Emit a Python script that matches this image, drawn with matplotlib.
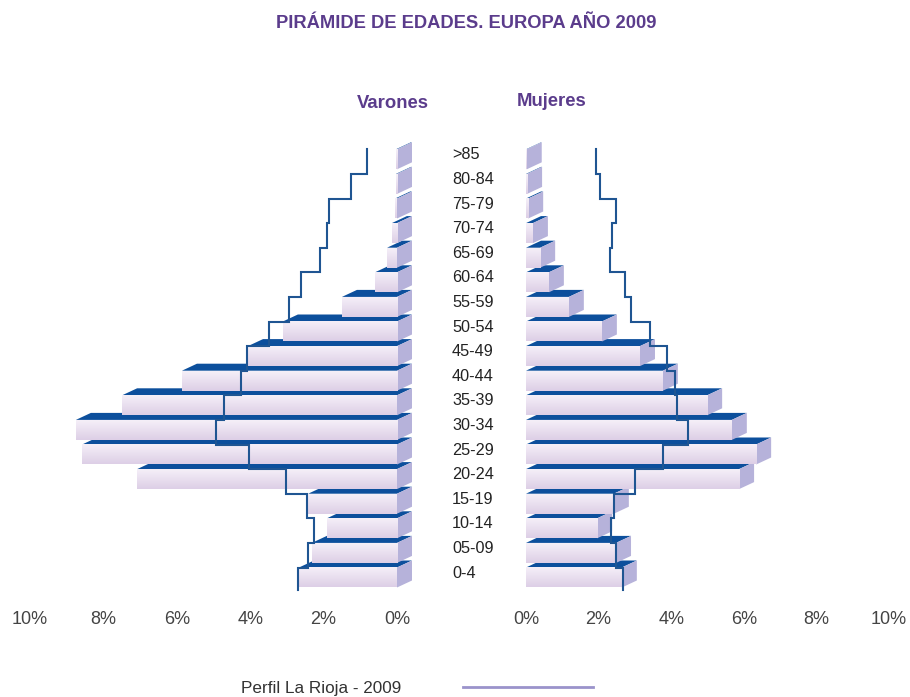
import numpy as np
import matplotlib
matplotlib.use('Agg')
import matplotlib.pyplot as plt
from matplotlib.patches import Polygon
from matplotlib.lines import Line2D
from matplotlib.colors import LinearSegmentedColormap

plt.rcParams['font.family'] = ['Liberation Sans', 'DejaVu Sans']

# age groups, bottom to top
ages = ['0-4', '05-09', '10-14', '15-19', '20-24', '25-29', '30-34', '35-39', '40-44',
        '45-49', '50-54', '55-59', '60-64', '65-69', '70-74', '75-79', '80-84', '>85']

# Europa 2009 (% of population)
varones = [2.67, 2.32, 1.91, 2.42, 7.08, 8.58, 8.75, 7.49, 5.86, 4.06, 3.11, 1.50,
           0.60, 0.27, 0.14, 0.05, 0.03, 0.03]
mujeres = [2.64, 2.48, 1.96, 2.42, 5.87, 6.34, 5.67, 4.99, 3.77, 3.14, 2.09, 1.18,
           0.63, 0.39, 0.19, 0.06, 0.03, 0.02]

# perfil La Rioja 2009
rioja_v = [2.70, 2.42, 2.26, 2.45, 3.02, 4.03, 4.93, 4.71, 4.25, 4.09, 3.49, 2.94,
           2.62, 2.10, 1.91, 1.85, 1.25, 0.82]
rioja_m = [2.67, 2.48, 2.34, 2.42, 3.00, 3.77, 4.46, 4.16, 4.10, 3.88, 3.42, 2.89,
           2.73, 2.31, 2.37, 2.48, 2.04, 1.93]

ticks = [0, 2, 4, 6, 8, 10]
tick_labels = ['0%', '2%', '4%', '6%', '8%', '10%']

purple = '#5b3c8c'
top_col = '#0c4f9c'
side_col = '#b6b2da'
line_col = '#1f5592'
grad = LinearSegmentedColormap.from_list('bar', ['#ddcfe6', '#f5eff8'])

W, H = 910, 697
fig = plt.figure(figsize=(W / 100, H / 100), dpi=100)

# axes placed in pixel terms: 36.7 px per 1% (left), 36.3 (right), 24.6 px per row
axL = fig.add_axes([0, 1 - 607 / H, 440 / W, 477 / H])
axR = fig.add_axes([470 / W, 1 - 607 / H, 440 / W, 477 / H])

h = 10 / 24.6      # half height of front face
dy = 7 / 24.6      # depth, vertical
dxp = 15.0         # depth in px


def draw_bars(ax, vals, sign, scale):
    dx = dxp / scale * sign
    for i, v in enumerate(vals):
        z = 2 + i * 0.1
        if sign > 0:
            top = [(0, i + h), (v, i + h), (v + dx, i + h + dy), (dx, i + h + dy)]
            xs = v
        else:
            top = [(v, i + h), (0, i + h), (dx, i + h + dy), (v + dx, i + h + dy)]
            xs = 0
        side = [(xs, i - h), (xs, i + h), (xs + dx, i + h + dy), (xs + dx, i - h + dy)]
        ax.add_patch(Polygon(top, closed=True, facecolor=top_col, edgecolor='none', zorder=z))
        ax.add_patch(Polygon(side, closed=True, facecolor=side_col, edgecolor='none', zorder=z))
        g = np.linspace(0, 1, 32).reshape(-1, 1)
        ax.imshow(g, cmap=grad, extent=[0, v, i - h, i + h], origin='lower',
                  aspect='auto', zorder=z + 0.01, interpolation='bilinear')


draw_bars(axL, varones, -1, 36.7)
draw_bars(axR, mujeres, 1, 36.3)


# step profile for La Rioja
def step_line(ax, r):
    n = len(r)
    xs = np.repeat(r, 2)
    ys = np.empty(2 * n)
    ys[0::2] = np.arange(n) - 1 + h
    ys[1::2] = np.arange(n) + h
    ys[0] = -0.5
    ax.plot(xs, ys, color=line_col, lw=1.5, zorder=10, solid_joinstyle='miter')


step_line(axL, rioja_v)
step_line(axR, rioja_m)

for ax in (axL, axR):
    ax.set_ylim((577.5 - 607) / 24.6, (577.5 - 130) / 24.6)
    for s in ax.spines.values():
        s.set_visible(False)
    ax.set_yticks([])
    ax.set_xticks(ticks)
    ax.set_xticklabels(tick_labels)
    ax.tick_params(axis='x', length=0, pad=3, labelsize=13, labelcolor='#444444')
    ax.patch.set_alpha(0)
axL.set_xlim(397 / 36.7, (397 - 440) / 36.7)
axR.set_xlim((470 - 526) / 36.3, (910 - 526) / 36.3)

# age labels
for i, a in enumerate(ages):
    axR.text((452 - 526) / 36.3, i + 0.18, a, ha='left', va='center',
             fontsize=11.7, color='#222222')

fig.text(466 / W, 1 - 24 / H, 'PIRÁMIDE DE EDADES. EUROPA AÑO 2009', ha='center',
         va='center', fontsize=13.2, fontweight='bold', color=purple)
fig.text(393 / W, 1 - 104 / H, 'Varones', ha='center', va='center', fontsize=13.3,
         fontweight='bold', color=purple)
fig.text(552 / W, 1 - 102 / H, 'Mujeres', ha='center', va='center', fontsize=13.3,
         fontweight='bold', color=purple)

handle = Line2D([], [], color='#9a93cb', lw=2)
fig.legend([handle], ['Perfil La Rioja - 2009'], loc='center',
           bbox_to_anchor=(417 / W, 1 - 688 / H), frameon=False, markerfirst=False,
           handlelength=7.6, handletextpad=3.6, fontsize=12.3, labelcolor='#333333')

fig.savefig('out.png', dpi=100)
